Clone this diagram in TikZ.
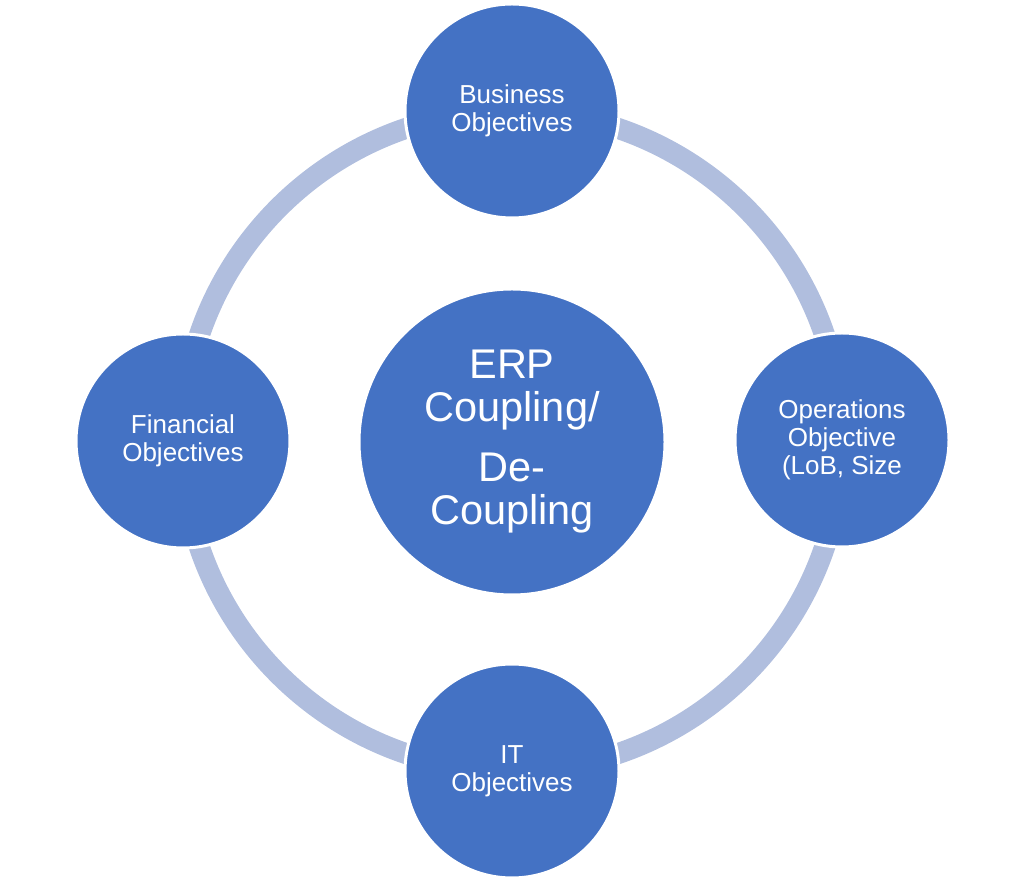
\documentclass[tikz,border=0pt]{standalone}
\usepackage{fontspec}
\setmainfont{Liberation Sans}
\definecolor{objblue}{RGB}{68,114,196}
\definecolor{ringblue}{RGB}{176,190,222}

\begin{document}
\begin{tikzpicture}[x=1pt,y=1pt,
    objective/.style={circle,fill=objblue,draw=white,line width=3pt,
      minimum size=214pt,inner sep=0pt,align=center,text=white,
      font=\fontsize{26}{28}\selectfont},
    hub/.style={objective,minimum size=306pt,font=\fontsize{41.5}{43}\selectfont}]
  \useasboundingbox (0,0) rectangle (1024,882);
  \coordinate (centre) at (512,441);
  \draw[ringblue,line width=21pt] (centre) circle (330);
  \node[hub] (erp) at (512,440) {ERP\\Coupling/\\[17pt]De-\\Coupling};
  \node[objective] (business) at (512,771) {Business\\Objectives};
  \node[objective] (operations) at (842,442) {Operations\\Objective\\(LoB, Size};
  \node[objective] (it) at (512,111) {IT\\Objectives};
  \node[objective] (financial) at (183,441) {Financial\\Objectives};
\end{tikzpicture}
\end{document}
